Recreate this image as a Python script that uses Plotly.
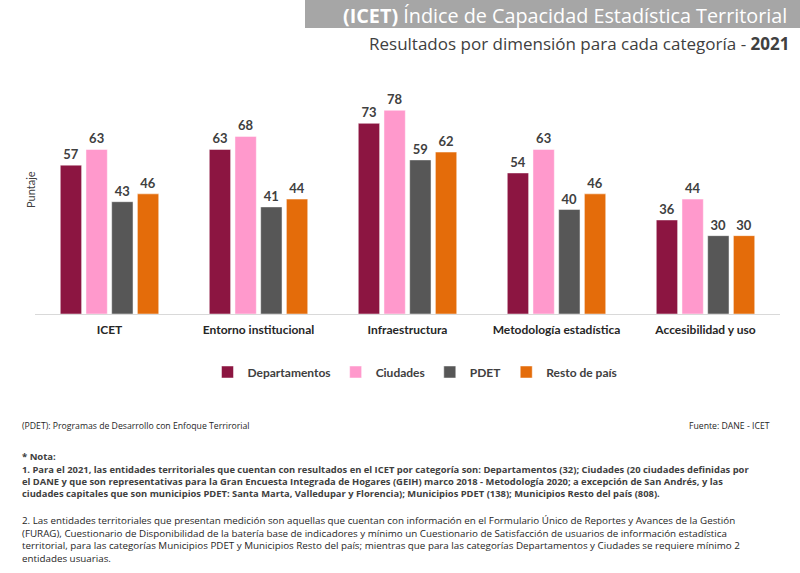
import plotly.graph_objects as go

categories = ["ICET", "Entorno institucional", "Infraestructura", "Metodología estadística", "Accesibilidad y uso"]
series_names = ["Departamentos", "Ciudades", "PDET", "Resto de país"]
departamentos = [57, 63, 73, 54, 36]
ciudades = [63, 68, 78, 63, 44]
pdet = [43, 41, 59, 40, 30]
resto = [46, 44, 62, 46, 30]
colors = ["#8C1541", "#FF99CC", "#575757", "#E46C0A"]

W, H = 800, 573
L, R, T, B = 35, 20, 92, 259  # plot area 35..780, 92..314
pw, ph = W - L - R, H - T - B


def px(x):
    return (x - L) / pw


def py(y):
    return (H - B - y) / ph


fig = go.Figure()
for name, vals, col in zip(series_names, [departamentos, ciudades, pdet, resto], colors):
    fig.add_trace(go.Bar(
        x=categories, y=vals, name=name,
        marker=dict(color=col, line=dict(color="rgba(255,255,255,0.6)", width=0.8)),
        text=[str(v) for v in vals], textposition="outside", cliponaxis=False,
        textfont=dict(family="Lato", size=13, color="#404040", weight="bold"),
    ))

annotations = []
# Title banner
shapes = [dict(type="rect", xref="paper", yref="paper", x0=px(305), x1=px(800), y0=py(28), y1=py(0),
               fillcolor="#A6A6A6", line=dict(width=0), layer="below")]
annotations.append(dict(xref="paper", yref="paper", x=px(789), y=py(15), xanchor="right", yanchor="middle",
                        text="<b>(ICET)</b> Índice de Capacidad Estadística Territorial", showarrow=False,
                        font=dict(family="Open Sans", size=19.8, color="white")))
annotations.append(dict(xref="paper", yref="paper", x=px(791), y=py(43), xanchor="right", yanchor="middle",
                        text="Resultados por dimensión para cada categoría - <b>2021</b>", showarrow=False,
                        font=dict(family="Open Sans", size=17, color="#404040")))
# Y title
annotations.append(dict(xref="paper", yref="paper", x=px(30), y=py(190), xanchor="center", yanchor="middle",
                        text="Puntaje", textangle=-90, showarrow=False,
                        font=dict(family="Lato", size=11, color="#404040")))
# Footnotes
annotations.append(dict(xref="paper", yref="paper", x=px(20), y=py(426), xanchor="left", yanchor="middle",
                        text="(PDET): Programas de Desarrollo con Enfoque Terrirorial", showarrow=False,
                        font=dict(family="Open Sans", size=8.7, color="#262626")))
annotations.append(dict(xref="paper", yref="paper", x=px(772), y=py(426), xanchor="right", yanchor="middle",
                        text="Fuente: DANE - ICET", showarrow=False,
                        font=dict(family="Open Sans", size=8.7, color="#262626")))
annotations.append(dict(xref="paper", yref="paper", x=px(20), y=py(457), xanchor="left", yanchor="middle",
                        text="<b>* Nota:</b>", showarrow=False,
                        font=dict(family="Open Sans", size=9.5, color="#404040")))
para1 = [
    "1. Para el 2021, las entidades territoriales que cuentan con resultados en el ICET por categoría son: Departamentos (32); Ciudades (20 ciudades definidas por",
    "el DANE y que son representativas para la Gran Encuesta Integrada de Hogares (GEIH) marco 2018 - Metodología 2020; a excepción de San Andrés, y las",
    "ciudades capitales que son municipios PDET: Santa Marta, Valledupar y Florencia); Municipios PDET (138); Municipios Resto del país (808).",
]
para2 = [
    "2. Las entidades territoriales que presentan medición son aquellas que cuentan con información en el Formulario Único de Reportes y Avances de la Gestión",
    "(FURAG), Cuestionario de Disponibilidad de la batería base de indicadores y mínimo un Cuestionario de Satisfacción de usuarios de información estadística",
    "territorial, para las categorías Municipios PDET y Municipios Resto del país; mientras que para las categorías Departamentos y Ciudades se requiere mínimo 2",
    "entidades usuarias.",
]
annotations.append(dict(xref="paper", yref="paper", x=px(20), y=py(512), xanchor="left", yanchor="top",
                        text="<b>" + "<br>".join(para1) + "</b>", showarrow=False, align="left",
                        font=dict(family="Open Sans", size=9.4, color="#404040")))
annotations[-1]["y"] = py(461)
annotations.append(dict(xref="paper", yref="paper", x=px(20), y=py(512), xanchor="left", yanchor="top",
                        text="<br>".join(para2), showarrow=False, align="left",
                        font=dict(family="Open Sans", size=9.8, color="#262626")))

fig.update_layout(
    width=W, height=H,
    margin=dict(l=L, r=R, t=T, b=B, pad=0),
    paper_bgcolor="white", plot_bgcolor="white",
    barmode="group", bargap=0.31, bargroupgap=0.17,
    showlegend=True,
    legend=dict(orientation="h", x=px(415), xanchor="center", y=py(372), yanchor="middle",
                font=dict(family="Lato", size=12, color="#404040", weight="bold"), itemwidth=30,
                traceorder="normal"),
    xaxis=dict(showline=True, linecolor="#D9D9D9", linewidth=1, ticks="outside", ticklen=5,
               tickcolor="rgba(0,0,0,0)", showgrid=False,
               tickfont=dict(family="Lato", size=12, color="#262626", weight="bold")),
    yaxis=dict(range=[0, 85], showticklabels=False, showgrid=False, zeroline=False, showline=False),
    shapes=shapes,
    annotations=annotations,
)

fig.write_html("out.html")
